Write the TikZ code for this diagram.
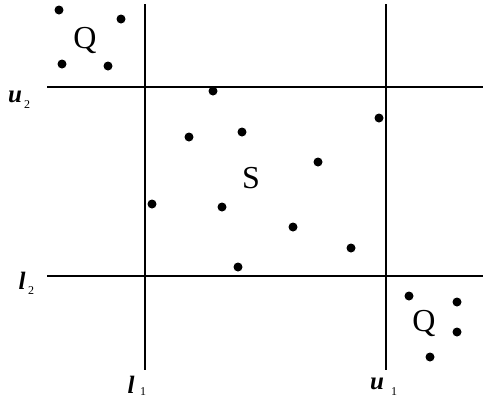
\documentclass[tikz,border=0pt]{standalone}
\usepackage{fontspec}
\setmainfont{Liberation Serif}
\begin{document}
\begin{tikzpicture}[x=1pt,y=-1pt,
  dot/.style={circle,fill=black,inner sep=0pt,minimum size=9pt},
  axis/.style={line width=1.3pt},
  big/.style={font=\fontsize{32}{34}\selectfont,inner sep=0pt},
  lab/.style={font=\fontsize{25}{27}\selectfont\bfseries\itshape,inner sep=0pt},
  sub/.style={font=\fontsize{12}{13}\selectfont,inner sep=0pt}]
\useasboundingbox (0,0) rectangle (483,402);
% lines
\coordinate (v1t) at (145,4); \coordinate (v1b) at (145,370);
\coordinate (v2t) at (386,4); \coordinate (v2b) at (386,370);
\coordinate (h1l) at (47,87); \coordinate (h1r) at (483,87);
\coordinate (h2l) at (47,276); \coordinate (h2r) at (483,276);
\draw[axis] (v1t) -- (v1b);
\draw[axis] (v2t) -- (v2b);
\draw[axis] (h1l) -- (h1r);
\draw[axis] (h2l) -- (h2r);
% labels
\node[lab] (u2) at (15,97) {u};
\node[sub] (u2s) at (27,105) {2};
\node[lab] (l2) at (22,281) {l};
\node[sub] (l2s) at (31,291) {2};
\node[lab] (l1) at (131,385) {l};
\node[sub] (l1s) at (143,392) {1};
\node[lab] (u1) at (377,384) {u};
\node[sub] (u1s) at (394,392) {1};
% Q top-left
\node[big] (q1) at (85,40) {Q};
\node[dot] (a1) at (59,10) {};
\node[dot] (a2) at (121,19) {};
\node[dot] (a3) at (62,64) {};
\node[dot] (a4) at (108,66) {};
% S
\node[big] (s) at (251,178) {S};
\node[dot] (b1) at (213,91) {};
\node[dot] (b2) at (189,137) {};
\node[dot] (b3) at (242,132) {};
\node[dot] (b4) at (379,118) {};
\node[dot] (b5) at (318,162) {};
\node[dot] (b6) at (152,204) {};
\node[dot] (b7) at (222,207) {};
\node[dot] (b8) at (293,227) {};
\node[dot] (b9) at (351,248) {};
\node[dot] (b10) at (238,267) {};
% Q bottom-right
\node[big] (q2) at (424,323) {Q};
\node[dot] (c1) at (409,296) {};
\node[dot] (c2) at (457,302) {};
\node[dot] (c3) at (457,332) {};
\node[dot] (c4) at (430,357) {};
\end{tikzpicture}
\end{document}
